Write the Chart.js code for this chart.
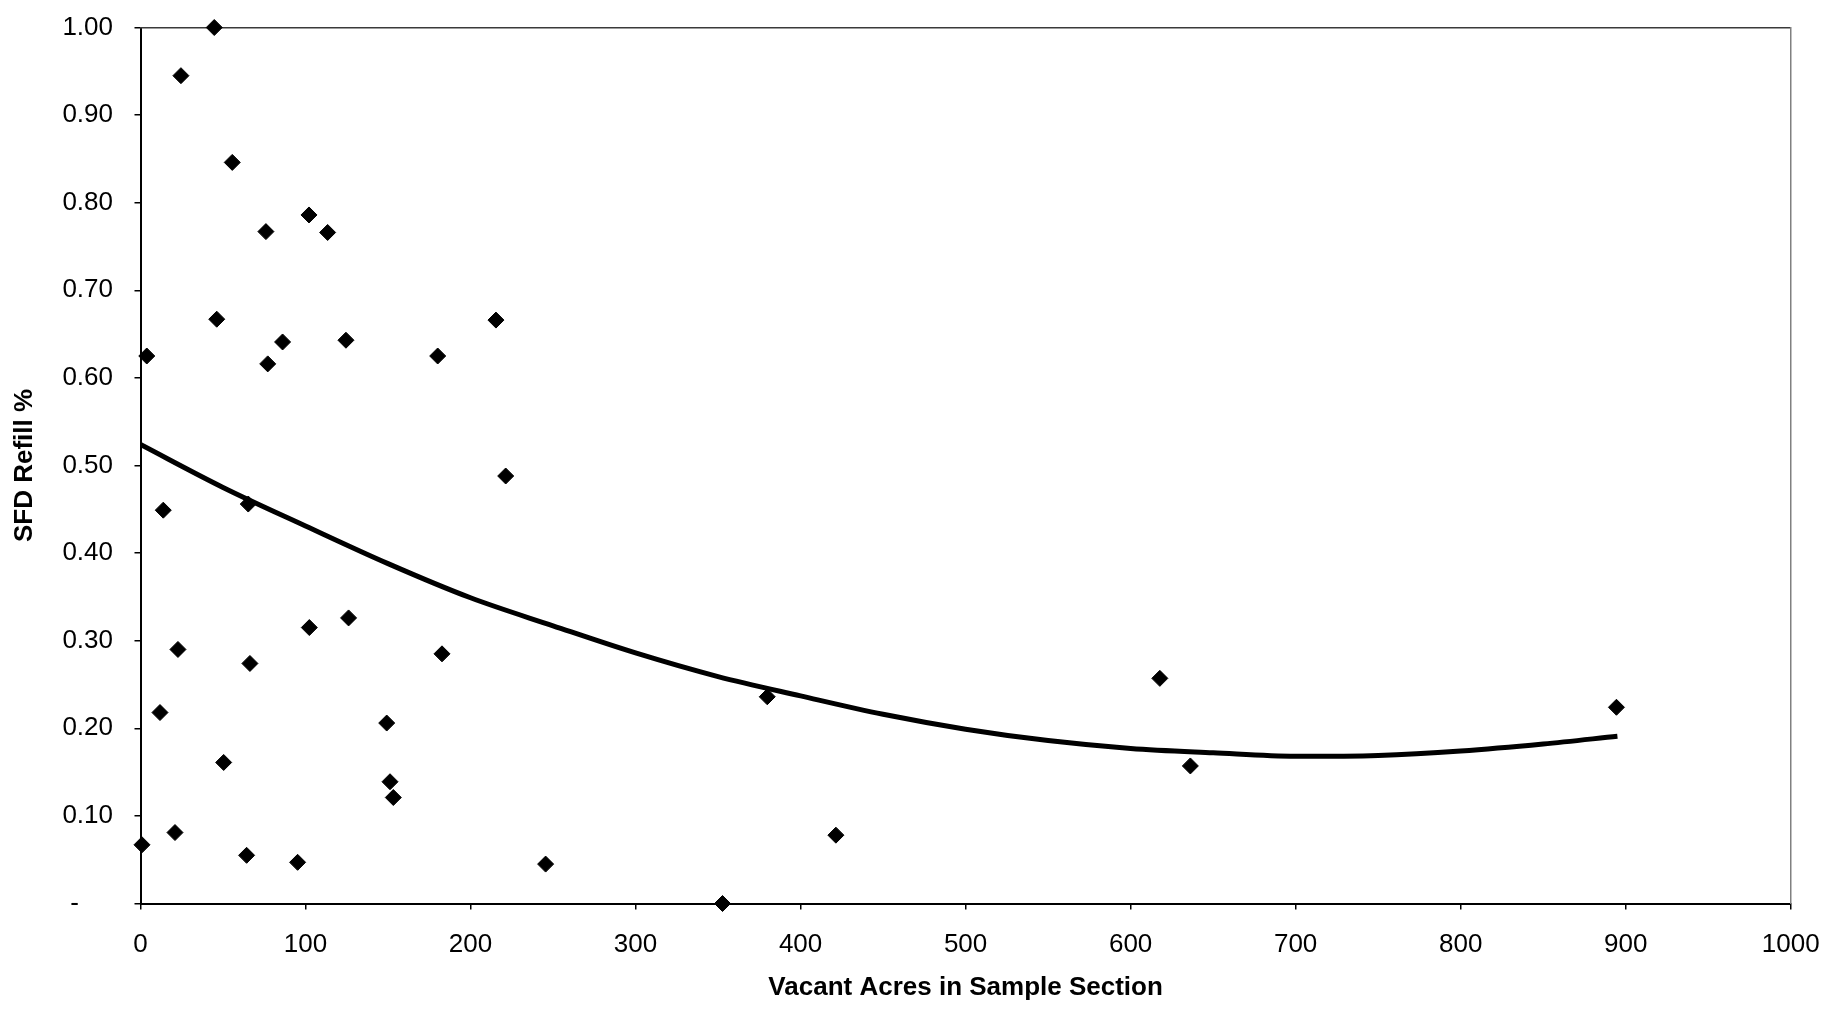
<!DOCTYPE html>
<html>
<head>
<meta charset="utf-8">
<script src="https://cdn.jsdelivr.net/npm/chart.js@4.4.1/dist/chart.umd.min.js"></script>
<style>
  html, body { margin: 0; padding: 0; background: #ffffff; }
  #wrap { width: 1828px; height: 1013px; position: relative; }
</style>
</head>
<body>
<div id="wrap"><canvas id="c" width="1828" height="1013"></canvas></div>
<script>
// Data
const acres = [44.7, 24.5, 55.6, 76.0, 102.1, 113.4, 46.2, 86.1, 77.1, 124.5, 3.8, 180.1, 215.4, 221.3, 13.8, 65.3, 22.7, 66.3, 102.3, 126.1, 182.7, 11.8, 149.2, 50.4, 151.2, 153.2, 0.9, 20.9, 64.3, 95.2, 245.5, 352.7, 379.8, 421.4, 617.7, 636.2, 894.4];
const refill = [1.000, 0.945, 0.846, 0.767, 0.786, 0.766, 0.667, 0.641, 0.616, 0.643, 0.625, 0.625, 0.666, 0.488, 0.449, 0.456, 0.290, 0.274, 0.315, 0.326, 0.285, 0.218, 0.206, 0.161, 0.139, 0.121, 0.067, 0.081, 0.055, 0.047, 0.045, 0.000, 0.236, 0.078, 0.257, 0.157, 0.224];

// Polynomial trend line
const trendX = [0, 50, 100, 150, 200, 250, 300, 350, 400, 450, 500, 550, 600, 650, 700, 750, 800, 850, 895];
const trendY = [0.524, 0.475, 0.431, 0.388, 0.349, 0.317, 0.286, 0.259, 0.237, 0.216, 0.199, 0.186, 0.177, 0.172, 0.168, 0.169, 0.174, 0.182, 0.191];

// Axis ticks
const xTicks = [0, 100, 200, 300, 400, 500, 600, 700, 800, 900, 1000];
const yTickLabels = ['-    \u2009', '0.10', '0.20', '0.30', '0.40', '0.50', '0.60', '0.70', '0.80', '0.90', '1.00'];

const xTitle = 'Vacant Acres in Sample Section';
const yTitle = 'SFD Refill %';

const pts = acres.map((x, i) => ({ x: x, y: refill[i] }));
const trend = trendX.map((x, i) => ({ x: x, y: trendY[i] }));

const tickFont = { family: '"Liberation Sans", Arial, sans-serif', size: 26 };
const titleFont = { family: '"Liberation Sans", Arial, sans-serif', size: 26, weight: 'bold' };

function noPad(s) {
  s.paddingTop = 0; s.paddingBottom = 0; s.paddingLeft = 0; s.paddingRight = 0;
}

new Chart(document.getElementById('c'), {
  type: 'scatter',
  data: {
    datasets: [
      {
        label: 'SFD Refill %',
        data: pts,
        pointStyle: 'rectRot',
        pointRadius: 8,
        pointHoverRadius: 8,
        backgroundColor: '#000000',
        borderColor: '#000000',
        borderWidth: 1,
        clip: false,
        order: 1
      },
      {
        label: 'Poly. trend',
        data: trend,
        showLine: true,
        pointRadius: 0,
        pointHoverRadius: 0,
        borderColor: '#000000',
        borderWidth: 5,
        cubicInterpolationMode: 'monotone',
        fill: false,
        order: 2
      }
    ]
  },
  options: {
    responsive: false,
    animation: false,
    events: [],
    layout: { autoPadding: false, padding: 0 },
    plugins: {
      legend: { display: false },
      tooltip: { enabled: false },
      title: { display: false }
    },
    scales: {
      x: {
        type: 'linear',
        position: 'bottom',
        min: 0,
        max: 1000,
        afterBuildTicks: (s) => { s.ticks = xTicks.map(v => ({ value: v })); },
        ticks: {
          color: '#000000',
          font: tickFont,
          padding: 20,
          maxRotation: 0,
          callback: (v) => String(v)
        },
        grid: { display: true, drawOnChartArea: false, drawTicks: true, tickLength: 6, color: '#000000', lineWidth: 1.5 },
        border: { display: true, color: '#000000', width: 2 },
        title: { display: true, text: xTitle, color: '#000000', font: titleFont, padding: { top: 0, bottom: 10 } },
        afterFit: (s) => { s.height = 109.5; noPad(s); }
      },
      y: {
        type: 'linear',
        position: 'left',
        min: 0,
        max: 1,
        afterBuildTicks: (s) => { s.ticks = yTickLabels.map((t, i) => ({ value: i / 10 })); },
        ticks: {
          color: '#000000',
          font: tickFont,
          padding: 21.5,
          callback: (v, i) => yTickLabels[i]
        },
        grid: { display: true, drawOnChartArea: false, drawTicks: true, tickLength: 6, color: '#000000', lineWidth: 1.5 },
        border: { display: true, color: '#000000', width: 2 },
        title: { display: true, text: yTitle, color: '#000000', font: titleFont, padding: { top: 9.5, bottom: 0 } },
        afterFit: (s) => { s.width = 140.5; noPad(s); }
      },
      xTop: {
        type: 'linear',
        axis: 'x',
        position: 'top',
        min: 0,
        max: 1000,
        grid: { display: false },
        ticks: { display: false },
        border: { display: true, color: '#3a3a3a', width: 1.5, dash: [26, 3] },
        afterFit: (s) => { s.height = 27.5; noPad(s); }
      },
      yRight: {
        type: 'linear',
        axis: 'y',
        position: 'right',
        min: 0,
        max: 1,
        grid: { display: false },
        ticks: { display: false },
        border: { display: true, color: '#808080', width: 1.5, dash: [10, 10] },
        afterFit: (s) => { s.width = 37.3; noPad(s); }
      }
    }
  }
});
</script>
</body>
</html>
